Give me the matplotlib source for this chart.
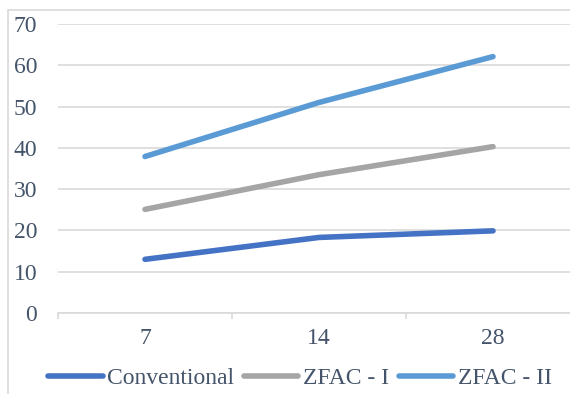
import numpy as np
import matplotlib.pyplot as plt
from matplotlib.patches import Rectangle

# data
days = ['7', '14', '28']
conventional = [13.0, 18.3, 19.9]
zfac1 = [25.1, 33.5, 40.3]
zfac2 = [37.9, 51.0, 62.1]

plt.rcParams['font.family'] = ['Liberation Serif', 'DejaVu Serif']
textColor = '#44546A'
gridColor = '#D9D9D9'

fig = plt.figure(figsize=(5.7, 3.94), dpi=100)

# light chart frame, like an Excel chart area
fig.patches.append(Rectangle((8 / 570, -0.1), 1.2, 1 - 10 / 394 + 0.1,
                             transform=fig.transFigure, fill=False,
                             edgecolor=gridColor, linewidth=1.2))

ax = fig.add_axes([58 / 570, 81 / 394, 522 / 570, 289 / 394])

x = np.arange(len(days))
ax.plot(x, conventional, color='#4472C4', linewidth=4.0, solid_capstyle='round', label='Conventional')
ax.plot(x, zfac1, color='#A5A5A5', linewidth=4.0, solid_capstyle='round', label='ZFAC - I')
ax.plot(x, zfac2, color='#5B9BD5', linewidth=4.0, solid_capstyle='round', label='ZFAC - II')

ax.set_xlim(-0.5, 2.5)
ax.set_ylim(0, 70)
ax.set_yticks(range(0, 71, 10))
ax.set_xticks(x)
ax.set_xticklabels(days)
ax.set_xticks([-0.5, 0.5, 1.5, 2.5], minor=True)

ax.grid(axis='y', color=gridColor, linewidth=1.2)
ax.set_axisbelow(True)
for side in ['top', 'right', 'left']:
    ax.spines[side].set_visible(False)
ax.spines['bottom'].set_color(gridColor)
ax.spines['bottom'].set_linewidth(1.2)

ax.tick_params(axis='y', length=0, pad=15, labelsize=17, labelcolor=textColor)
ax.tick_params(axis='x', which='major', length=0, pad=11, labelsize=17, labelcolor=textColor)
ax.tick_params(axis='x', which='minor', length=4, color=gridColor, width=1.2)

fig.legend(loc='center', bbox_to_anchor=(300 / 570, 1 - 378 / 394), ncol=3,
           frameon=False, fontsize=17, handlelength=2.3, handletextpad=0.2,
           columnspacing=0.4, labelcolor=textColor, borderaxespad=0)

fig.savefig('out.png', dpi=100)
